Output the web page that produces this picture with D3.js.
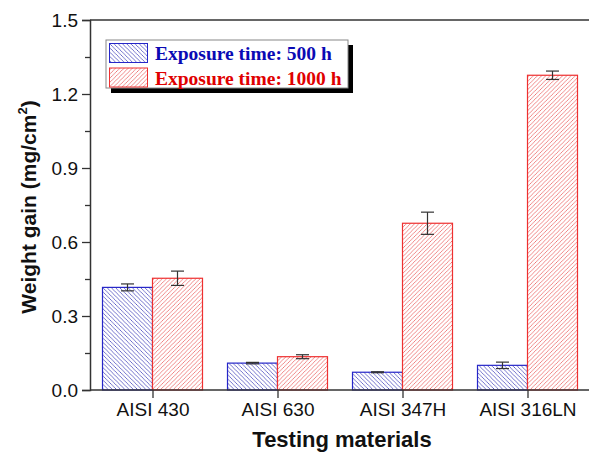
<!DOCTYPE html>
<html>
<head>
<meta charset="utf-8">
<style>
  body { margin: 0; background: #fff; }
  svg text { font-family: Arial, "Liberation Sans", sans-serif; }
</style>
</head>
<body>
<script src="https://cdn.jsdelivr.net/npm/d3@7/dist/d3.min.js"></script>
<script>
const materials = ["AISI 430", "AISI 630", "AISI 347H", "AISI 316LN"];
const series = ["Exposure time: 500 h", "Exposure time: 1000 h"];
const gain500 = [0.416, 0.109, 0.072, 0.100];
const err500 = [0.014, 0.003, 0.002, 0.013];
const gain1000 = [0.453, 0.135, 0.676, 1.276];
const err1000 = [0.029, 0.008, 0.045, 0.017];
const yTicks = [0.0, 0.3, 0.6, 0.9, 1.2, 1.5];

const W = 589, H = 454;
const m = { left: 90, right: -1, top: 20, bottom: 64 };

const svg = d3.select("body").append("svg").attr("width", W).attr("height", H);
const defs = svg.append("defs");

// hatch fills
function hatch(id, color, back) {
  const s = 4.2;
  const p = defs.append("pattern").attr("id", id)
    .attr("patternUnits", "userSpaceOnUse").attr("width", s).attr("height", s);
  p.append("rect").attr("width", s).attr("height", s).attr("fill", "#fff");
  const d = back
    ? `M-1,-1 L${s + 1},${s + 1} M-1,${s - 1} L1,${s + 1} M${s - 1},-1 L${s + 1},1`
    : `M-1,${s + 1} L${s + 1},-1 M-1,1 L1,-1 M${s - 1},${s + 1} L${s + 1},${s - 1}`;
  p.append("path").attr("d", d).attr("stroke", color).attr("stroke-width", 0.8);
}
hatch("hatch-blue", "#5050c0", true);
hatch("hatch-red", "#ec6a6a", false);

const x = d3.scaleLinear().domain([0.5, 4.5]).range([m.left, W - m.right]);
const y = d3.scaleLinear().domain([0, 1.5]).range([H - m.bottom, m.top]);
const barW = 50;

const rows = materials.map((name, i) => ({ name, i }));

// bars
const groups = [
  { vals: gain500, errs: err500, fill: "url(#hatch-blue)", stroke: "#2626c8", off: -barW },
  { vals: gain1000, errs: err1000, fill: "url(#hatch-red)", stroke: "#ee3030", off: 0 }
];
groups.forEach(g => {
  svg.append("g").selectAll("rect").data(rows).enter().append("rect")
    .attr("x", d => x(d.i + 1) + g.off)
    .attr("y", d => y(g.vals[d.i]))
    .attr("width", barW)
    .attr("height", d => y(0) - y(g.vals[d.i]))
    .attr("fill", g.fill)
    .attr("stroke", g.stroke)
    .attr("stroke-width", 1.2);
});

// error bars
groups.forEach(g => {
  const eg = svg.append("g").attr("stroke", "#333").attr("stroke-width", 1.2);
  rows.forEach(d => {
    const cx = x(d.i + 1) + g.off + barW / 2;
    const v = g.vals[d.i], e = g.errs[d.i];
    eg.append("line").attr("x1", cx).attr("x2", cx).attr("y1", y(v - e)).attr("y2", y(v + e));
    [v - e, v + e].forEach(t => eg.append("line")
      .attr("x1", cx - 6.5).attr("x2", cx + 6.5).attr("y1", y(t)).attr("y2", y(t)));
  });
});

// axes
const axisColor = "#333";
const yAxis = svg.append("g").attr("transform", `translate(${m.left},0)`)
  .call(d3.axisLeft(y).tickValues(yTicks).tickFormat(d3.format(".1f")).tickSize(8).tickPadding(4));
svg.append("g").attr("transform", `translate(${m.left},0)`)
  .call(d3.axisLeft(y).tickValues(d3.range(0.15, 1.5, 0.3)).tickFormat("").tickSize(5))
  .select(".domain").remove();
const xAxis = svg.append("g").attr("transform", `translate(0,${y(0)})`)
  .call(d3.axisBottom(x).tickValues([1, 2, 3, 4]).tickFormat(d => materials[d - 1]).tickSize(8).tickPadding(5));
svg.append("line").attr("x1", m.left).attr("x2", W).attr("y1", y(1.5)).attr("y2", y(1.5))
  .attr("stroke", axisColor).attr("stroke-width", 1.5);

[yAxis, xAxis].forEach(a => {
  a.selectAll(".domain").attr("stroke", axisColor).attr("stroke-width", 1.5);
  a.selectAll("text").attr("font-size", 19).attr("fill", "#111");
});
svg.selectAll(".tick line").attr("stroke", axisColor).attr("stroke-width", 1.3);
xAxis.selectAll(".domain").attr("d", `M${m.left},0H${W}`);

// axis titles
svg.append("text").attr("x", 342).attr("y", 447).attr("text-anchor", "middle")
  .attr("font-size", 22).attr("font-weight", "bold").attr("fill", "#111").text("Testing materials");
const yt = svg.append("text").attr("transform", "translate(36,207) rotate(-90)")
  .attr("text-anchor", "middle").attr("font-size", 21).attr("font-weight", "bold").attr("fill", "#111");
yt.append("tspan").text("Weight gain (mg/cm");
yt.append("tspan").attr("font-size", 13).attr("dy", -9).text("2");
yt.append("tspan").attr("dy", 9).text(")");

// legend
const lg = svg.append("g").attr("transform", "translate(106,40)");
lg.append("rect").attr("x", 5).attr("y", 5).attr("width", 242).attr("height", 48).attr("fill", "#000");
lg.append("rect").attr("width", 242).attr("height", 48).attr("fill", "#fff").attr("stroke", "#888").attr("stroke-width", 1);
const lcol = ["#0a0ab4", "#e00000"];
series.forEach((s, i) => {
  lg.append("rect").attr("x", 3.5).attr("y", 3.5 + i * 24.5).attr("width", 38).attr("height", 19)
    .attr("fill", groups[i].fill).attr("stroke", groups[i].stroke).attr("stroke-width", 1);
  lg.append("text").attr("x", 49).attr("y", 20 + i * 24.5)
    .style("font-family", "'Liberation Serif', 'Times New Roman', serif")
    .attr("font-size", 19.5).attr("font-weight", "bold").attr("fill", lcol[i]).text(s);
});
</script>
</body>
</html>
